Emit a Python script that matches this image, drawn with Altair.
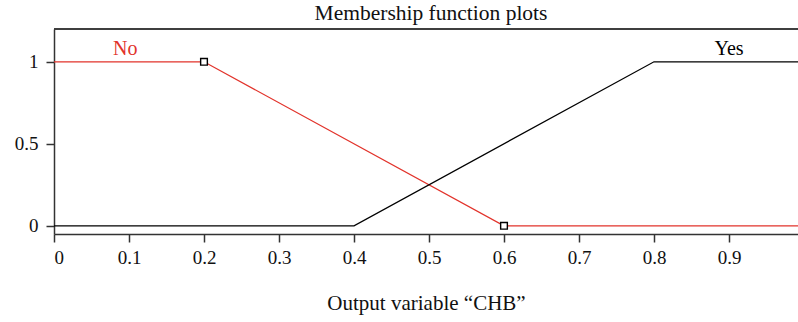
import altair as alt
import pandas as pd

# Membership functions of the output variable (breakpoints of each trapezoid)
no_x = [0.0, 0.2, 0.6, 1.0]
no_y = [1.0, 1.0, 0.0, 0.0]
yes_x = [0.0, 0.4, 0.8, 1.0]
yes_y = [0.0, 0.0, 1.0, 1.0]

# Highlighted breakpoints of the "No" function
marker_x = [0.2, 0.6]
marker_y = [1.0, 0.0]

# Function names and where they are written
label_text = ["No", "Yes"]
label_x = [0.095, 0.9]
label_y = [1.08, 1.08]
label_color = ["#e2332b", "#000000"]

x_ticks = [0, 0.1, 0.2, 0.3, 0.4, 0.5, 0.6, 0.7, 0.8, 0.9]
y_ticks = [0, 0.5, 1]

X_MAX = 0.992
Y_MIN, Y_MAX = -0.05, 1.2
FONT = "Liberation Serif"
RED = "#e2332b"

lines = pd.DataFrame({
    "x": no_x + yes_x,
    "y": no_y + yes_y,
    "mf": ["No"] * len(no_x) + ["Yes"] * len(yes_x),
    "order": list(range(len(no_x))) + list(range(len(yes_x))),
})
markers = pd.DataFrame({"x": marker_x, "y": marker_y})
labels = pd.DataFrame({"text": label_text, "x": label_x, "y": label_y, "color": label_color})

x_enc = alt.X(
    "x:Q",
    scale=alt.Scale(domain=[0, X_MAX], nice=False, zero=False),
    axis=alt.Axis(values=x_ticks, format="~g", title="Output variable \u201cCHB\u201d",
                  titlePadding=25),
)
y_enc = alt.Y(
    "y:Q",
    scale=alt.Scale(domain=[Y_MIN, Y_MAX], nice=False, zero=False),
    axis=alt.Axis(values=y_ticks, format="~g", title=None),
)

base = alt.Chart(lines)

line_layer = base.mark_line(clip=True, strokeWidth=1.3).encode(
    x=x_enc,
    y=y_enc,
    order="order:Q",
    detail="mf:N",
    color=alt.Color("mf:N", scale=alt.Scale(domain=["No", "Yes"], range=[RED, "#000000"]),
                    legend=None),
)

marker_layer = alt.Chart(markers).mark_point(
    shape="square", size=45, filled=True, fill="white", stroke="black", strokeWidth=1.4,
    opacity=1,
).encode(x="x:Q", y="y:Q")

label_layer = alt.Chart(labels).mark_text(font=FONT, fontSize=20, baseline="middle").encode(
    x="x:Q", y="y:Q", text="text:N", color=alt.Color("color:N", scale=None),
)

frame_top = alt.Chart(labels).mark_rule(color="#333333", strokeWidth=1.5).encode(
    x=alt.datum(0), x2=alt.datum(X_MAX), y=alt.datum(Y_MAX),
)

chart = alt.layer(line_layer, frame_top, marker_layer, label_layer).properties(
    width=744,
    height=205,
    autosize=alt.AutoSizeParams(type="none"),
    padding={"left": 54, "top": 29, "right": 0, "bottom": 88},
    title=alt.TitleParams(
        "Membership function plots", font=FONT, fontSize=21.5, fontWeight="normal",
        color="#111111", anchor="middle", offset=4, dx=5,
    ),
).configure_view(stroke=None).configure_axis(
    grid=False,
    domainColor="#333333",
    domainWidth=1.5,
    tickColor="#333333",
    tickWidth=1.5,
    tickSize=8,
    labelFont=FONT,
    labelFontSize=19,
    labelColor="#111111",
    labelPadding=6,
    titleFont=FONT,
    titleFontSize=21,
    titleFontWeight="normal",
    titleColor="#111111",
).configure_axisY(labelPadding=8)

chart.save("out.html", embed_options={"renderer": "svg", "actions": False})
